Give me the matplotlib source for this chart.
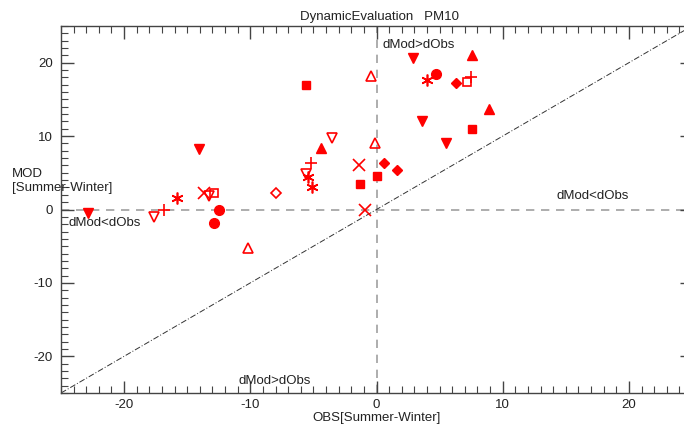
import matplotlib
matplotlib.use("Agg")
import matplotlib.pyplot as plt
from matplotlib.ticker import MultipleLocator

plt.rcParams['font.family'] = ['Liberation Sans', 'DejaVu Sans']
plt.rcParams['axes.unicode_minus'] = False

title = "DynamicEvaluation   PM10"
xlabel = "OBS[Summer-Winter]"
ylabel = "MOD\n[Summer-Winter]"

filled_down_x = [-22.9, -14.1, 2.9, 3.6, 5.5]
filled_down_y = [-0.5, 8.2, 20.7, 12.0, 9.1]
open_down_x = [-17.6, -13.3, -5.6, -3.5]
open_down_y = [-1.0, 1.9, 4.9, 9.7]
filled_up_x = [-4.4, 7.6, 8.9]
filled_up_y = [8.4, 21.0, 13.7]
open_up_x = [-10.2, -0.1, -0.4]
open_up_y = [-5.2, 9.1, 18.2]
plus_x = [-16.8, -5.2, 7.5]
plus_y = [0.0, 6.3, 18.0]
aster_x = [-15.8, -5.4, -5.1, 4.0]
aster_y = [1.5, 4.4, 3.0, 17.6]
cross_x = [-13.7, -1.4, -0.9]
cross_y = [2.3, 6.0, 0.0]
open_sq_x = [-12.9, 7.2]
open_sq_y = [2.2, 17.4]
filled_sq_x = [-5.6, -1.3, 0.0, 7.6]
filled_sq_y = [16.9, 3.5, 4.6, 11.0]
circle_x = [-12.5, -12.9, 4.7]
circle_y = [0.0, -1.9, 18.5]
open_dia_x = [-8.0]
open_dia_y = [2.3]
filled_dia_x = [0.6, 1.6, 6.3]
filled_dia_y = [6.4, 5.4, 17.3]

W, H = 684, 425
fig = plt.figure(figsize=(W/100, H/100), dpi=100)
l, r, t, b = 61, 692, 26, 393
ax = fig.add_axes([l/W, 1-b/H, (r-l)/W, (b-t)/H])
ax.set_xlim(-25, 25)
ax.set_ylim(-25, 25)

red = '#ff0000'
ax.axhline(0, color='#a0a0a0', lw=1.2, ls=(0, (5, 4)), zorder=1)
ax.axvline(0, color='#a0a0a0', lw=1.2, ls=(0, (5, 4)), zorder=1)
ax.plot([-25, 25], [-25, 25], color='#333333', lw=0.7, ls=(0, (6, 2, 1, 2)), zorder=1)

ms = 7
kw = dict(ls='none', zorder=3)
ax.plot(filled_down_x, filled_down_y, marker='v', color=red, ms=ms, **kw)
ax.plot(open_down_x, open_down_y, marker='v', mfc='none', mec=red, mew=1.2, ms=ms, **kw)
ax.plot(filled_up_x, filled_up_y, marker='^', color=red, ms=ms, **kw)
ax.plot(open_up_x, open_up_y, marker='^', mfc='none', mec=red, mew=1.2, ms=ms, **kw)
ax.plot(plus_x, plus_y, marker='+', color=red, mew=1.2, ms=8.5, **kw)
ax.plot(aster_x, aster_y, marker=(6, 2, 0), color=red, mew=1.2, ms=8.5, **kw)
ax.plot(cross_x, cross_y, marker='x', color=red, mew=1.2, ms=8, **kw)
ax.plot(open_sq_x, open_sq_y, marker='s', mfc='none', mec=red, mew=1.2, ms=6, **kw)
ax.plot(filled_sq_x, filled_sq_y, marker='s', color=red, ms=5.5, **kw)
ax.plot(circle_x, circle_y, marker='o', color=red, ms=7, **kw)
ax.plot(open_dia_x, open_dia_y, marker='D', mfc='none', mec=red, mew=1.2, ms=5.5, **kw)
ax.plot(filled_dia_x, filled_dia_y, marker='D', color=red, ms=5.5, **kw)

txtc = '#222222'
fs = 9.5
ax.text(0.5, 22.4, "dMod>dObs", fontsize=fs, color=txtc, ha='left', va='center')
ax.text(14.3, 1.9, "dMod<dObs", fontsize=fs, color=txtc, ha='left', va='center')
ax.text(-24.4, -1.9, "dMod<dObs", fontsize=fs, color=txtc, ha='left', va='center')
ax.text(-10.9, -23.4, "dMod>dObs", fontsize=fs, color=txtc, ha='left', va='center')

ax.xaxis.set_major_locator(MultipleLocator(10))
ax.xaxis.set_minor_locator(MultipleLocator(1))
ax.yaxis.set_major_locator(MultipleLocator(10))
ax.yaxis.set_minor_locator(MultipleLocator(1))
ax.tick_params(which='both', direction='in', top=True, right=True, color='#444444',
               labelcolor=txtc, labelsize=fs)
ax.tick_params(which='major', length=9, width=1)
ax.tick_params(which='minor', length=5, width=0.8)
ax.tick_params(axis='x', pad=4.5)
ax.tick_params(axis='y', pad=6)
for s in ax.spines.values():
    s.set_color('#444444')
    s.set_linewidth(1)

fig.text(380/W, 1-17/H, title, fontsize=fs, color=txtc, ha='center', va='center')
fig.text(377/W, 1-418/H, xlabel, fontsize=fs, color=txtc, ha='center', va='center')
fig.text(12/W, 1-181/H, ylabel, fontsize=fs, color=txtc, ha='left', va='center', linespacing=1.3)

fig.savefig("out.png", dpi=100)
